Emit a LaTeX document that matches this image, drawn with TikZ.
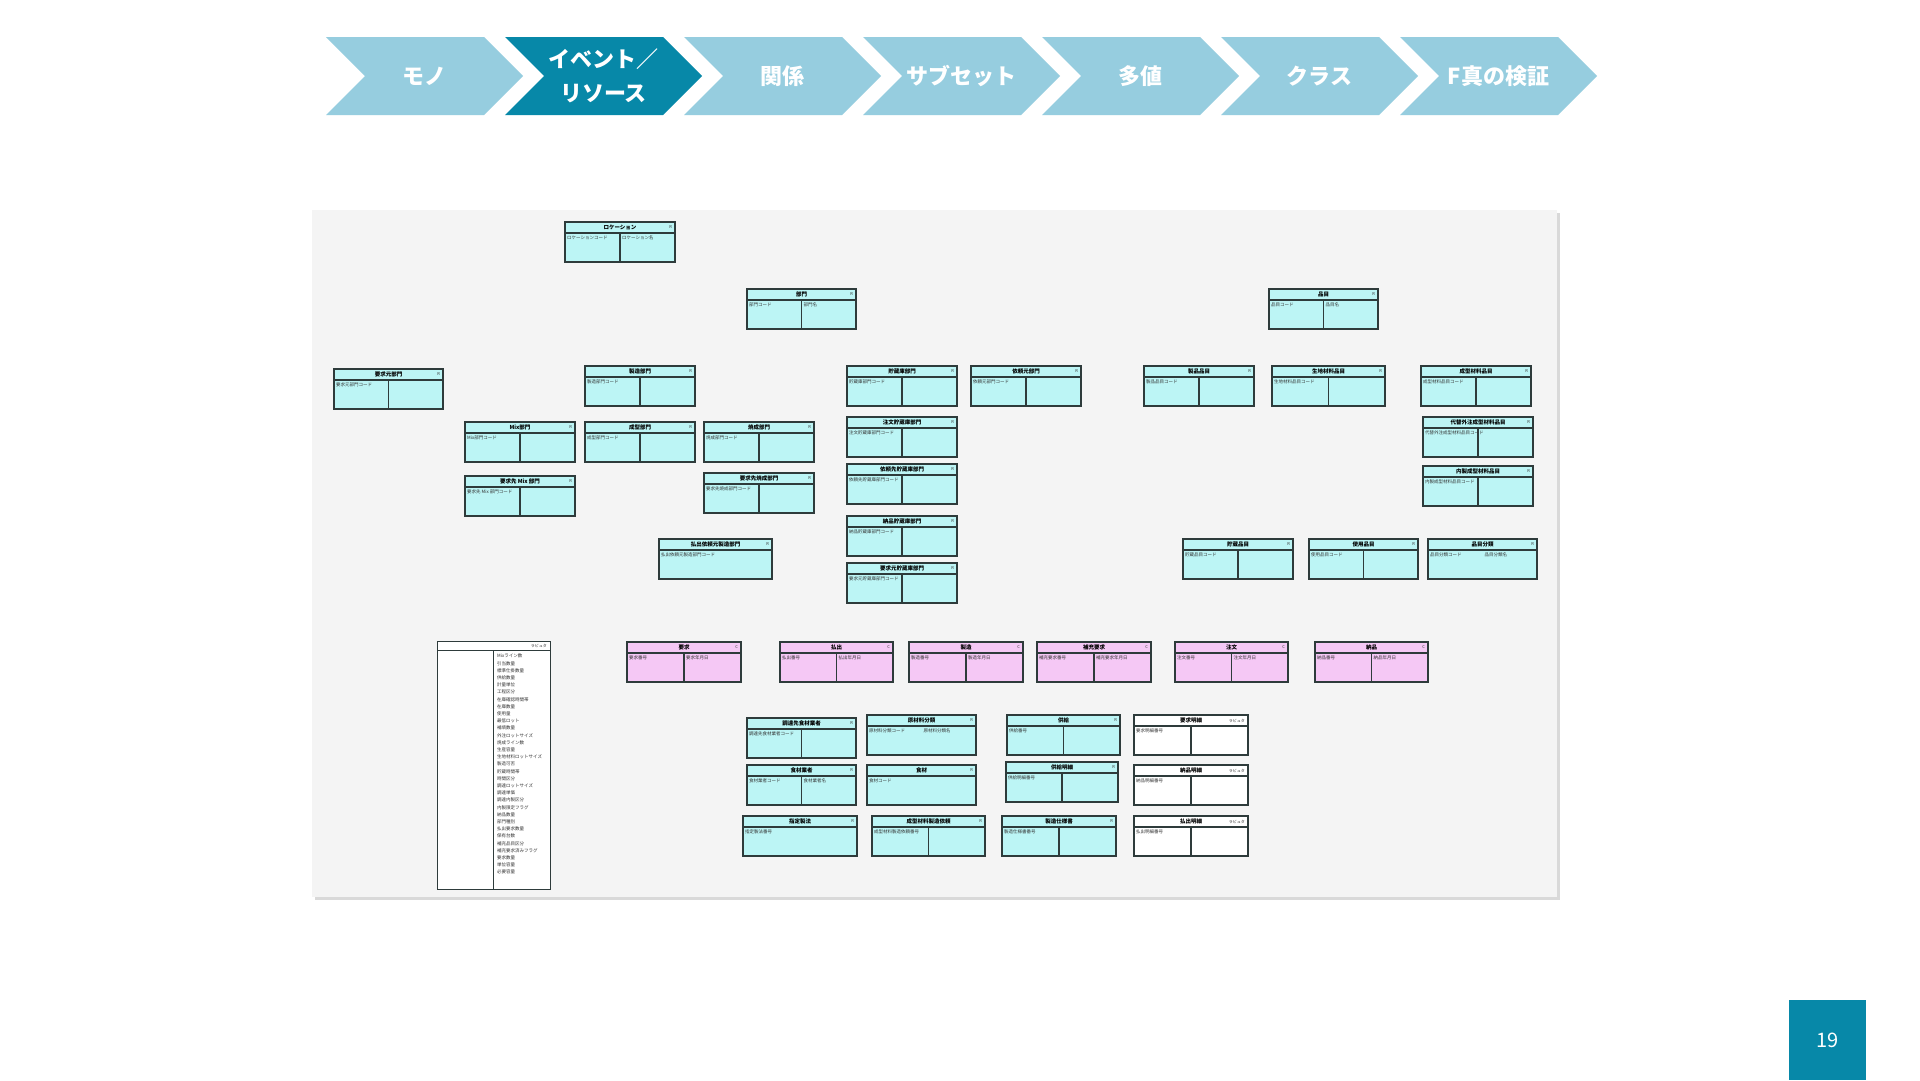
\documentclass[tikz,border=0pt]{standalone}
\usepackage{fontspec}
\setmainfont{Noto Sans CJK JP}
\usetikzlibrary{calc}
\definecolor{chevlight}{HTML}{96CDDF}
\definecolor{chevdark}{HTML}{0788A8}
\definecolor{panelbg}{HTML}{F4F4F4}
\definecolor{entcyan}{HTML}{BCF5F5}
\definecolor{entpink}{HTML}{F5C8F5}
\definecolor{entline}{HTML}{2E3B3B}
\definecolor{enttext}{HTML}{333333}
\tikzset{
 entbox/.style={draw=entline, line width=1.3pt, minimum height=40pt, inner sep=0pt, outer sep=0pt},
 cyanent/.style={entbox, fill=entcyan},
 pinkent/.style={entbox, fill=entpink},
 whiteent/.style={entbox, fill=white},
 enttitle/.style={font=\bfseries\fontsize{5.5}{6}\selectfont, text=black, inner sep=0pt},
 enttag/.style={font=\fontsize{4}{5}\selectfont, text=enttext, inner sep=0pt},
 entfield/.style={font=\fontsize{4.5}{5}\selectfont, text=enttext, inner sep=0pt},
 entrule/.style={draw=entline, line width=1.3pt},
 chevtext/.style={font=\bfseries\fontsize{22}{34}\selectfont, text=white, align=center, inner sep=0pt},
}
% entity with divider
\newcommand{\ent}[9][cyanent]{%
 \node[#1, minimum width=#5pt, anchor=north west] (#2) at (#3,#4) {};
 \draw[entrule] (#3,{#4+11}) -- ({#3+#5},{#4+11});
 \draw[entrule] ({#3+#5/2},{#4+11}) -- ({#3+#5/2},{#4+40});
 \node[enttitle] (#2-title) at ({#3+#5/2},{#4+5.5}) {#6};
 \node[enttag, anchor=east] (#2-tag) at ({#3+#5-3},{#4+5.5}) {#7};
 \node[entfield, anchor=north west] (#2-key) at ({#3+2},{#4+13.5}) {#8};
 \node[entfield, anchor=north west] (#2-attr) at ({#3+#5/2+2},{#4+13.5}) {#9};
}
% entity without divider
\newcommand{\entnd}[9][cyanent]{%
 \node[#1, minimum width=#5pt, anchor=north west] (#2) at (#3,#4) {};
 \draw[entrule] (#3,{#4+11}) -- ({#3+#5},{#4+11});
 \node[enttitle] (#2-title) at ({#3+#5/2},{#4+5.5}) {#6};
 \node[enttag, anchor=east] (#2-tag) at ({#3+#5-3},{#4+5.5}) {#7};
 \node[entfield, anchor=north west] (#2-key) at ({#3+2},{#4+13.5}) {#8};
 \node[entfield, anchor=north west] (#2-attr) at ({#3+#5/2+2},{#4+13.5}) {#9};
}
\newcommand{\chev}[4]{%
 \fill[#3] (#2,37) -- ({#2+158},37) -- ({#2+197},76) -- ({#2+158},115) -- (#2,115) -- ({#2+39},76) -- cycle;
 \node[chevtext] (#1) at ({#2+98.5},76) {#4};
}
\begin{document}
\begin{tikzpicture}[x=1pt,y=-1pt]
\useasboundingbox (0,0) rectangle (1920,1080);
\fill[white] (0,0) rectangle (1920,1080);
% chevrons
\chev{c1}{326}{chevlight}{モノ}
\chev{c2}{505}{chevdark}{イベント／\\リソース}
\chev{c3}{684}{chevlight}{関係}
\chev{c4}{863}{chevlight}{サブセット}
\chev{c5}{1042}{chevlight}{多値}
\chev{c6}{1221}{chevlight}{クラス}
\chev{c7}{1400}{chevlight}{F真の検証}
% panel
\fill[black!15] (315,213) rectangle (1560,900);
\fill[panelbg] (312,210) rectangle (1557,897);
% resources
\ent{loc}{565}{222}{110}{ロケーション}{R}{ロケーションコード}{ロケーション名}
\ent{bumon}{747}{289}{109}{部門}{R}{部門コード}{部門名}
\ent{hinmoku}{1269}{289}{109}{品目}{R}{品目コード}{品目名}
\ent{yokyumoto}{334}{369}{109}{要求元部門}{R}{要求元部門コード}{}
\ent{seizo}{585}{366}{110}{製造部門}{R}{製造部門コード}{}
\ent{chozo}{847}{366}{110}{貯蔵庫部門}{R}{貯蔵庫部門コード}{}
\ent{iraimoto}{971}{366}{110}{依頼元部門}{R}{依頼元部門コード}{}
\ent{seihin}{1144}{366}{110}{製品品目}{R}{製品品目コード}{}
\ent{kiji}{1272}{366}{113}{生地材料品目}{R}{生地材料品目コード}{}
\ent{seikei}{1421}{366}{110}{成型材料品目}{R}{成型材料品目コード}{}
\ent{mix}{465}{422}{110}{Mix部門}{R}{Mix部門コード}{}
\ent{seikeib}{585}{422}{110}{成型部門}{R}{成型部門コード}{}
\ent{shosei}{704}{422}{110}{焼成部門}{R}{焼成部門コード}{}
\ent{chumonc}{847}{417}{110}{注文貯蔵庫部門}{R}{注文貯蔵庫部門コード}{}
\ent{daitai}{1423}{417}{110}{代替外注成型材料品目}{R}{代替外注成型材料品目コード}{}
\ent{sakimix}{465}{476}{110}{要求先 Mix 部門}{R}{要求先 Mix 部門コード}{}
\ent{sakishosei}{704}{473}{110}{要求先焼成部門}{R}{要求先焼成部門コード}{}
\ent{iraisaki}{847}{464}{110}{依頼先貯蔵庫部門}{R}{依頼先貯蔵庫部門コード}{}
\ent{naisei}{1423}{466}{110}{内製成型材料品目}{R}{内製成型材料品目コード}{}
\ent{nohinc}{847}{516}{110}{納品貯蔵庫部門}{R}{納品貯蔵庫部門コード}{}
\entnd{haraidashi}{659}{539}{113}{払出依頼元製造部門}{R}{払出依頼元製造部門コード}{}
\ent{yokyumotoc}{847}{563}{110}{要求元貯蔵庫部門}{R}{要求元貯蔵庫部門コード}{}
\ent{chozoh}{1183}{539}{110}{貯蔵品目}{R}{貯蔵品目コード}{}
\ent{shiyoh}{1309}{539}{109}{使用品目}{R}{使用品目コード}{}
\entnd{bunrui}{1428}{539}{109}{品目分類}{R}{品目分類コード}{品目分類名}
% events
\ent[pinkent]{yokyu}{627}{642}{114}{要求}{C}{要求番号}{要求年月日}
\ent[pinkent]{harai}{780}{642}{113}{払出}{C}{払出番号}{払出年月日}
\ent[pinkent]{seizoe}{909}{642}{114}{製造}{C}{製造番号}{製造年月日}
\ent[pinkent]{hoju}{1037}{642}{114}{補充要求}{C}{補充要求番号}{補充要求年月日}
\ent[pinkent]{chumon}{1175}{642}{113}{注文}{C}{注文番号}{注文年月日}
\ent[pinkent]{nohin}{1315}{642}{113}{納品}{C}{納品番号}{納品年月日}
% lower group
\ent{chotatsu}{747}{718}{109}{調達先食材業者}{R}{調達先食材業者コード}{}
\entnd{genzai}{867}{715}{109}{原材料分類}{R}{原材料分類コード}{原材料分類名}
\ent{kyokyu}{1007}{715}{113}{供給}{R}{供給番号}{}
\ent{gyosha}{747}{765}{109}{食材業者}{R}{食材業者コード}{食材業者名}
\entnd{shokuzai}{867}{765}{109}{食材}{R}{食材コード}{}
\ent{kyomei}{1006}{762}{112}{供給明細}{R}{供給明細番号}{}
\entnd{seiho}{743}{816}{114}{指定製法}{R}{指定製法番号}{}
\ent{seikeirai}{872}{816}{113}{成型材料製造依頼}{R}{成型材料製造依頼番号}{}
\ent{shiyosho}{1002}{816}{114}{製造仕様書}{R}{製造仕様書番号}{}
\ent[whiteent]{yomei}{1134}{715}{114}{要求明細}{ラピュタ}{要求明細番号}{}
\ent[whiteent]{nomei}{1134}{765}{114}{納品明細}{ラピュタ}{納品明細番号}{}
\ent[whiteent]{haramei}{1134}{816}{114}{払出明細}{ラピュタ}{払出明細番号}{}
% attribute list
\node[draw=entline, line width=0.8pt, fill=white, minimum width=113pt, minimum height=248pt, inner sep=0pt, anchor=north west] (attrs) at (437,641) {};
\draw[draw=entline, line width=0.8pt] (437,650) -- (550,650);
\draw[draw=entline, line width=0.8pt] (493,650) -- (493,889);
\node[enttag, anchor=east] (attrs-tag) at (547,645.5) {ラピュタ};
\node[entfield, font=\fontsize{4.5}{7.2}\selectfont, anchor=north west, align=left] (attrlist) at (497,654) {Mixライン数\\引当数量\\標準仕掛数量\\供給数量\\計量単位\\工程区分\\在庫確認時間帯\\在庫数量\\使用量\\最低ロット\\補填数量\\外注ロットサイズ\\焼成ライン数\\生産容量\\生地材料ロットサイズ\\製造可否\\貯蔵時間帯\\時間区分\\調達ロットサイズ\\調達単価\\調達内製区分\\内製限定フラグ\\納品数量\\部門種別\\払出要求数量\\保有台数\\補充品目区分\\補充要求済みフラグ\\要求数量\\単位容量\\必要容量};
% page number
\fill[chevdark] (1789,1000) rectangle (1866,1080);
\node[text=white, font=\fontsize{20}{24}\selectfont, inner sep=0pt] (pageno) at (1827.5,1040) {19};
\end{tikzpicture}
\end{document}
